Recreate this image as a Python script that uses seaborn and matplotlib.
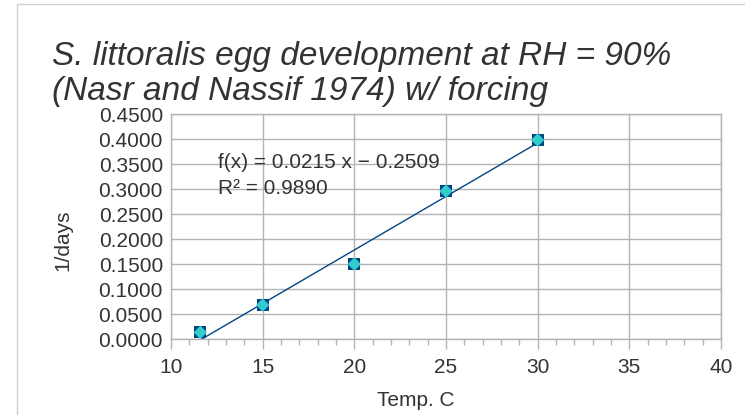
import numpy as np
import pandas as pd
import matplotlib
matplotlib.use("Agg")
import matplotlib.pyplot as plt
import seaborn as sns
from matplotlib.ticker import MultipleLocator, FormatStrFormatter
from matplotlib.patches import Rectangle

temps = [11.6, 15, 20, 25, 30]
rates = [0.0132, 0.068, 0.150, 0.296, 0.3986]
eq_line1 = "f(x) = 0.0215 x − 0.2509"
eq_line2 = "R² = 0.9890"
title_line1 = "S. littoralis egg development at RH = 90%"
title_line2 = "(Nasr and Nassif 1974) w/ forcing"

df = pd.DataFrame({"Temp. C": temps, "1/days": rates})

sns.set_theme(style="white")
plt.rcParams['font.family'] = ['Liberation Sans', 'DejaVu Sans']

W, H = 745, 415
fig = plt.figure(figsize=(7.45, 4.15), dpi=100)
ax_l, ax_r, ax_t, ax_b = 171, 721, 114.3, 339
ax = fig.add_axes([ax_l / W, 1 - ax_b / H, (ax_r - ax_l) / W, (ax_b - ax_t) / H])

grid_c = "#b3b3b3"
txt_c = "#333333"

sns.regplot(data=df, x="Temp. C", y="1/days", ax=ax, ci=None, scatter=False,
            truncate=True, line_kws=dict(color="#004586", lw=1.0))
sns.scatterplot(data=df, x="Temp. C", y="1/days", ax=ax, marker="s", s=80,
                color="#004586", edgecolor="#004586", linewidth=0, zorder=3)
sns.scatterplot(data=df, x="Temp. C", y="1/days", ax=ax, marker="D", s=46,
                color="#33cccc", edgecolor="none", linewidth=0, zorder=4)

ax.set_xlim(10, 40)
ax.set_ylim(0, 0.45)
ax.xaxis.set_major_locator(MultipleLocator(5))
ax.xaxis.set_minor_locator(MultipleLocator(1))
ax.yaxis.set_major_locator(MultipleLocator(0.05))
ax.yaxis.set_major_formatter(FormatStrFormatter("%.4f"))
ax.grid(True, which="major", color=grid_c, lw=1.0)
ax.set_axisbelow(True)
for s in ax.spines.values():
    s.set_visible(True)
    s.set_color(grid_c)
    s.set_linewidth(1.0)
ax.tick_params(axis="both", which="both", direction="out", color=grid_c,
               labelcolor=txt_c, labelsize=15)
ax.tick_params(axis="x", which="major", length=7, width=1, bottom=True, pad=7)
ax.tick_params(axis="x", which="minor", length=4.3, width=1, bottom=True)
ax.tick_params(axis="y", which="major", length=0, left=True, pad=5.8)

ax.set_xlabel("Temp. C", fontsize=15, color=txt_c)
ax.xaxis.label.set_verticalalignment("baseline")
ax.xaxis.set_label_coords((416 - ax_l) / (ax_r - ax_l), (ax_b - 406) / (ax_b - ax_t))
ax.set_ylabel("1/days", fontsize=15, color=txt_c)
ax.yaxis.label.set_verticalalignment("center")
ax.yaxis.set_label_coords((63 - ax_l) / (ax_r - ax_l), (ax_b - 240) / (ax_b - ax_t))

ax.text((218 - ax_l) / (ax_r - ax_l), (ax_b - 168.5) / (ax_b - ax_t), eq_line1,
        transform=ax.transAxes, fontsize=15, color=txt_c, va="baseline", ha="left")
ax.text((218 - ax_l) / (ax_r - ax_l), (ax_b - 193.5) / (ax_b - ax_t), eq_line2,
        transform=ax.transAxes, fontsize=15, color=txt_c, va="baseline", ha="left")

fig.text(52 / W, 1 - 65 / H, title_line1, fontsize=24, style="italic",
         color=txt_c, va="baseline", ha="left")
fig.text(52 / W, 1 - 100 / H, title_line2, fontsize=24, style="italic",
         color=txt_c, va="baseline", ha="left")

fig.patches.append(Rectangle((16.5 / W, -0.05), 1.0, 1 - 4 / H + 0.05,
                             transform=fig.transFigure, fill=False,
                             edgecolor="#d0d0d0", lw=1.0, clip_on=False))

fig.savefig("out.png", dpi=100)
